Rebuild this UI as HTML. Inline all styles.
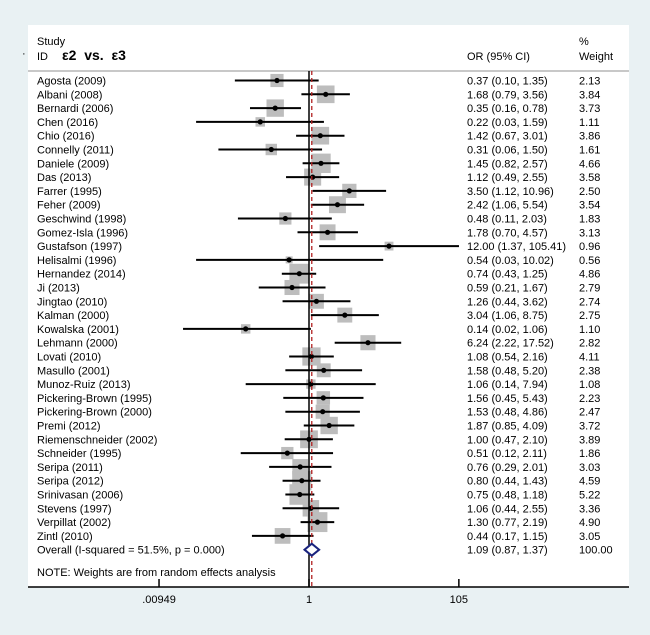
<!DOCTYPE html>
<html><head><meta charset="utf-8"><style>
body{margin:0;background:#e9f1f3;}
svg{display:block;font-family:"Liberation Sans",Arial,sans-serif;}
</style></head><body>
<svg id="chart" width="650" height="635" xmlns="http://www.w3.org/2000/svg">
<rect x="0" y="0" width="650" height="635" fill="#e9f1f3"/>
<rect x="28" y="25" width="601" height="562" fill="#fff"/>
<text x="22" y="57" font-size="11">·</text>
<text x="37" y="45" font-size="11">Study</text>
<text x="37" y="60" font-size="11">ID</text>
<text x="62" y="60" font-size="14" font-weight="bold" xml:space="preserve">ε2  vs.  ε3</text>
<text x="467" y="60" font-size="11">OR (95% CI)</text>
<text x="579" y="45" font-size="11">%</text>
<text x="579" y="60" font-size="11">Weight</text>
<line x1="28" x2="629" y1="71" y2="71" stroke="#c8c8c8" stroke-width="2"/>
<g id="rows"></g>
<text x="37" y="576" font-size="11">NOTE: Weights are from random effects analysis</text>
<line x1="28" x2="629" y1="587" y2="587" stroke="#000" stroke-width="1.5"/>
<g id="axis"></g>
</svg>
<script>
const studies=["Agosta (2009)","Albani (2008)","Bernardi (2006)","Chen (2016)","Chio (2016)","Connelly (2011)","Daniele (2009)","Das (2013)","Farrer (1995)","Feher (2009)","Geschwind (1998)","Gomez-Isla (1996)","Gustafson (1997)","Helisalmi (1996)","Hernandez (2014)","Ji (2013)","Jingtao (2010)","Kalman (2000)","Kowalska (2001)","Lehmann (2000)","Lovati (2010)","Masullo (2001)","Munoz-Ruiz (2013)","Pickering-Brown (1995)","Pickering-Brown (2000)","Premi (2012)","Riemenschneider (2002)","Schneider (1995)","Seripa (2011)","Seripa (2012)","Srinivasan (2006)","Stevens (1997)","Verpillat (2002)","Zintl (2010)"];
const orVals=[0.37,1.68,0.35,0.22,1.42,0.31,1.45,1.12,3.50,2.42,0.48,1.78,12.00,0.54,0.74,0.59,1.26,3.04,0.14,6.24,1.08,1.58,1.06,1.56,1.53,1.87,1.00,0.51,0.76,0.80,0.75,1.06,1.30,0.44];
const lowVals=[0.10,0.79,0.16,0.03,0.67,0.06,0.82,0.49,1.12,1.06,0.11,0.70,1.37,0.03,0.43,0.21,0.44,1.06,0.02,2.22,0.54,0.48,0.14,0.45,0.48,0.85,0.47,0.12,0.29,0.44,0.48,0.44,0.77,0.17];
const highVals=[1.35,3.56,0.78,1.59,3.01,1.50,2.57,2.55,10.96,5.54,2.03,4.57,105.41,10.02,1.25,1.67,3.62,8.75,1.06,17.52,2.16,5.20,7.94,5.43,4.86,4.09,2.10,2.11,2.01,1.43,1.18,2.55,2.19,1.15];
const weights=["2.13","3.84","3.73","1.11","3.86","1.61","4.66","3.58","2.50","3.54","1.83","3.13","0.96","0.56","4.86","2.79","2.74","2.75","1.10","2.82","4.11","2.38","1.08","2.23","2.47","3.72","3.89","1.86","3.03","4.59","5.22","3.36","4.90","3.05"];
const overall=[1.09,0.87,1.37];
const overallLabel="Overall  (I-squared = 51.5%, p = 0.000)";
const tickVals=[0.00949,1,105];
const tickLabels=[".00949","1","105"];
const NS="http://www.w3.org/2000/svg";
const xs=v=>309+Math.log(v)*32.2;
const ys=i=>80.5+i*13.8;
const rows=document.getElementById('rows');
function mk(tag,attrs,parent){const e=document.createElementNS(NS,tag);for(const k in attrs)e.setAttribute(k,attrs[k]);(parent||rows).appendChild(e);return e;}
const fmt=v=>v.toFixed(2);
studies.forEach((s,i)=>{
  const y=ys(i);
  const w=parseFloat(weights[i]);const side=Math.max(9*Math.sqrt(w),7);
  const b=mk('rect',{x:xs(orVals[i])-side/2,y:y-side/2,width:side,height:side,fill:'#bdbdbd'});
  
  
  const l=mk('line',{x1:xs(lowVals[i]),x2:xs(highVals[i]),y1:y,y2:y,stroke:'#000','stroke-width':2});
  
  
  const p=mk('circle',{cx:xs(orVals[i]),cy:y,r:2.6,fill:'#000'});
  
  
  const t=mk('text',{x:37,y:y+4,'font-size':11});t.textContent=s;
  
  
  const o=mk('text',{x:467,y:y+4,'font-size':11});o.textContent=fmt(orVals[i])+" ("+fmt(lowVals[i])+", "+fmt(highVals[i])+")";
  
  
  const wt=mk('text',{x:579,y:y+4,'font-size':11});wt.textContent=weights[i];
  
  
});
const vl=mk('line',{x1:xs(1),x2:xs(1),y1:71,y2:587,stroke:'#000','stroke-width':1.5});


const rl=mk('line',{x1:xs(overall[0]),x2:xs(overall[0]),y1:71,y2:587,stroke:'#b22222','stroke-width':1.3,'stroke-dasharray':'4,3'});


const oy=ys(studies.length);
const d=mk('polygon',{points:`${xs(overall[1])},${oy} ${xs(overall[0])},${oy-6} ${xs(overall[2])},${oy} ${xs(overall[0])},${oy+6}`,fill:'#fff',stroke:'#1a237e','stroke-width':2});


const ot=mk('text',{x:37,y:oy+4,'font-size':11,'xml:space':'preserve'});ot.textContent=overallLabel;


const oo=mk('text',{x:467,y:oy+4,'font-size':11});oo.textContent=fmt(overall[0])+" ("+fmt(overall[1])+", "+fmt(overall[2])+")";


const ow=mk('text',{x:579,y:oy+4,'font-size':11});ow.textContent="100.00";


const axis=document.getElementById('axis');
tickVals.forEach((v,i)=>{
  const tk=mk('line',{x1:xs(v),x2:xs(v),y1:579,y2:587,stroke:'#000','stroke-width':1.5},axis);
  
  
  const tl=mk('text',{x:xs(v),y:603,'font-size':11,'text-anchor':'middle'},axis);tl.textContent=tickLabels[i];
  
  
});
</script>
</body></html>
